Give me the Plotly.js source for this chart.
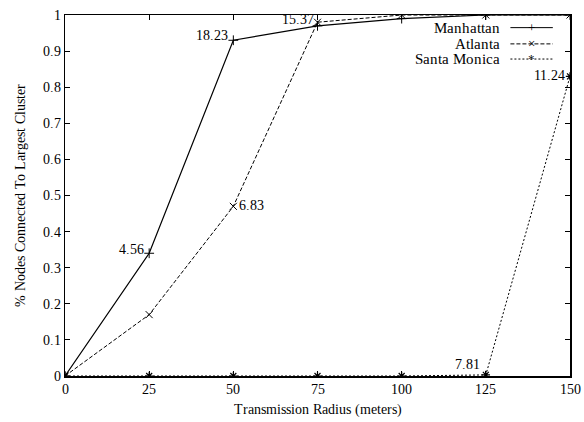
<!DOCTYPE html>
<html><head><meta charset="utf-8">
<script src="https://cdn.plot.ly/plotly-3.0.1.min.js"></script>
<style>
@font-face{font-family:'RefSerif';src:local('Liberation Serif'),local('LiberationSerif'),local('LiberationSerif-Regular'),local('DejaVu Serif'),local('DejaVuSerif');}
body{margin:0;background:#fff}#c{width:584px;height:422px}
</style>
</head><body><div id="c"></div>
<script>
const radius = [0, 25, 50, 75, 100, 125, 150];
const manhattan = [0, 0.34, 0.93, 0.97, 0.99, 1.0, 1.0];
const atlanta = [0, 0.17, 0.47, 0.98, 1.0, 1.0, 1.0];
const santaMonica = [0, 0, 0, 0, 0, 0.003, 0.83];
const seriesNames = ['Manhattan', 'Atlanta', 'Santa Monica'];
const labelText = ['4.56', '18.23', '6.83', '15.37', '7.81', '11.24'];
const labelX = [25, 50, 50, 75, 125, 150];
const labelY = [0.34, 0.93, 0.47, 0.98, 0.003, 0.83];
const xTicks = [0, 25, 50, 75, 100, 125, 150];
const yTicks = [0, 0.1, 0.2, 0.3, 0.4, 0.5, 0.6, 0.7, 0.8, 0.9, 1];

const F = 'RefSerif, Liberation Serif, Tinos, Times New Roman, Times, serif';
const traces = [
  {x: radius, y: manhattan, name: seriesNames[0], mode: 'lines+markers',
   line: {color: '#000', width: 1.2, dash: 'solid'},
   marker: {symbol: 'cross-thin-open', size: 7, color: '#000', line: {color: '#000', width: 1}}},
  {x: radius, y: atlanta, name: seriesNames[1], mode: 'lines+markers',
   line: {color: '#000', width: 1, dash: '4px,2px'},
   marker: {symbol: 'x-thin-open', size: 7, color: '#000', line: {color: '#000', width: 1}}},
  {x: radius, y: santaMonica, name: seriesNames[2], mode: 'lines+markers',
   line: {color: '#000', width: 1, dash: '2px,2px'},
   marker: {symbol: 'asterisk-open', size: 7, color: '#000', line: {color: '#000', width: 1.2}}}
];

const anns = [];
const pos = [
  {xanchor: 'right', yanchor: 'middle', xshift: -3, yshift: 4},
  {xanchor: 'right', yanchor: 'middle', xshift: -3, yshift: 5},
  {xanchor: 'left', yanchor: 'middle', xshift: 4, yshift: 1},
  {xanchor: 'right', yanchor: 'middle', xshift: -2, yshift: 3},
  {xanchor: 'right', yanchor: 'bottom', xshift: -4, yshift: 1},
  {xanchor: 'right', yanchor: 'middle', xshift: -3, yshift: 1}
];
for (let i = 0; i < labelText.length; i++) {
  anns.push(Object.assign({x: labelX[i], y: labelY[i], xref: 'x', yref: 'y', text: labelText[i],
    showarrow: false, font: {family: F, size: 14, color: '#000'}}, pos[i]));
}
const legY = [0.965, 0.92, 0.878];
const legMarks = ['+', '×', '*'];
const legDash = ['solid', '4px,2px', '2px,2px'];
const shapes = [];
for (let i = 0; i < 3; i++) {
  anns.push({xref: 'paper', yref: 'paper', x: 0.865, y: legY[i], xanchor: 'right', yanchor: 'middle',
    text: seriesNames[i], showarrow: false, font: {family: F, size: 15, color: '#000'}});
  anns.push({xref: 'paper', yref: 'paper', x: 0.924, y: legY[i], xanchor: 'center', yanchor: 'middle',
    text: legMarks[i], showarrow: false, font: {family: F, size: 13, color: '#000'}});
  shapes.push({type: 'line', xref: 'paper', yref: 'paper', x0: 0.882, x1: 0.966, y0: legY[i], y1: legY[i],
    line: {color: '#000', width: 1, dash: legDash[i]}});
}

const layout = {
  width: 584, height: 422,
  margin: {l: 65, r: 14, t: 15, b: 46},
  paper_bgcolor: '#fff', plot_bgcolor: '#fff',
  showlegend: false,
  font: {family: F, size: 14, color: '#000'},
  xaxis: {range: [0, 150], tickvals: xTicks, ticktext: xTicks.map(String),
    ticks: 'inside', ticklen: 5, tickcolor: '#000', showline: true, linecolor: '#000', linewidth: 1.5,
    mirror: 'ticks', showgrid: false, zeroline: false,
    title: {text: 'Transmission Radius (meters)', font: {family: F, size: 14}, standoff: 8},
    tickfont: {family: F, size: 14}},
  yaxis: {range: [0, 1], tickvals: yTicks, ticktext: yTicks.map(v => String(v)),
    ticks: 'inside', ticklen: 5, tickcolor: '#000', showline: true, linecolor: '#000', linewidth: 1.5,
    mirror: 'ticks', showgrid: false, zeroline: false,
    title: {text: '% Nodes Connected To Largest Cluster', font: {family: F, size: 14}, standoff: 14},
    tickfont: {family: F, size: 14}},
  annotations: anns,
  shapes: shapes
};
Plotly.newPlot('c', traces, layout, {displayModeBar: false, staticPlot: true});
</script></body></html>
